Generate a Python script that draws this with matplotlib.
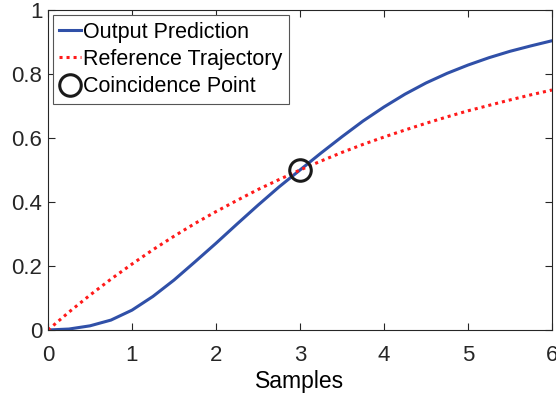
import matplotlib
matplotlib.use("Agg")
import matplotlib.pyplot as plt

plt.rcParams['font.family'] = ['Liberation Sans', 'DejaVu Sans']

# samples
samples = [0, 0.25, 0.5, 0.75, 1, 1.25, 1.5, 1.75, 2, 2.25, 2.5, 2.75, 3,
           3.25, 3.5, 3.75, 4, 4.25, 4.5, 4.75, 5, 5.25, 5.5, 5.75, 6]
output_pred = [0, 0.003, 0.013, 0.031, 0.062, 0.105, 0.156, 0.213, 0.271,
               0.331, 0.39, 0.447, 0.5, 0.553, 0.604, 0.653, 0.697, 0.737,
               0.772, 0.802, 0.828, 0.851, 0.871, 0.888, 0.904]
ref_traj = [0, 0.056, 0.109, 0.159, 0.206, 0.251, 0.293, 0.333, 0.370,
            0.405, 0.439, 0.470, 0.5, 0.528, 0.555, 0.580, 0.603, 0.625,
            0.646, 0.666, 0.685, 0.702, 0.719, 0.735, 0.75]
coincide_x = [3]
coincide_y = [0.5]

fig = plt.figure(figsize=(5.56, 3.96), dpi=100)
ax = fig.add_axes([0.0863, 0.1667, 0.9065, 0.808])

ax.plot(samples, output_pred, color='#3050A8', lw=2.2, label='Output Prediction')
ax.plot(samples, ref_traj, color='#FF1A1A', lw=2.2, ls=(0, (1, 1.3)),
        label='Reference Trajectory')
ax.plot(coincide_x, coincide_y, 'o', mfc='none', mec='#1a1a1a', mew=2.2,
        ms=15.5, label='Coincidence Point')

ax.set_xlim(0, 6)
ax.set_ylim(0, 1)
ax.set_xticks(range(7))
ax.set_yticks([0, 0.2, 0.4, 0.6, 0.8, 1])
ax.set_yticklabels(['0', '0.2', '0.4', '0.6', '0.8', '1'])
ax.set_xlabel('Samples', fontsize=16.5, labelpad=3)
ax.tick_params(direction='in', length=5, width=0.8, colors='#262626',
               labelsize=16, top=True, right=True)
ax.tick_params(axis='x', pad=11)
ax.tick_params(axis='y', pad=4)
for s in ax.spines.values():
    s.set_color('#262626')
    s.set_linewidth(0.8)

leg = ax.legend(loc='upper left', bbox_to_anchor=(0.01, 0.984),
                borderaxespad=0, fontsize=15.5, handlelength=1.0,
                handletextpad=0.1, labelspacing=0.29, borderpad=0.3,
                fancybox=False, framealpha=1)
leg.get_frame().set_edgecolor('#555555')
leg.get_frame().set_linewidth(0.8)

fig.savefig('out.png', dpi=100)
